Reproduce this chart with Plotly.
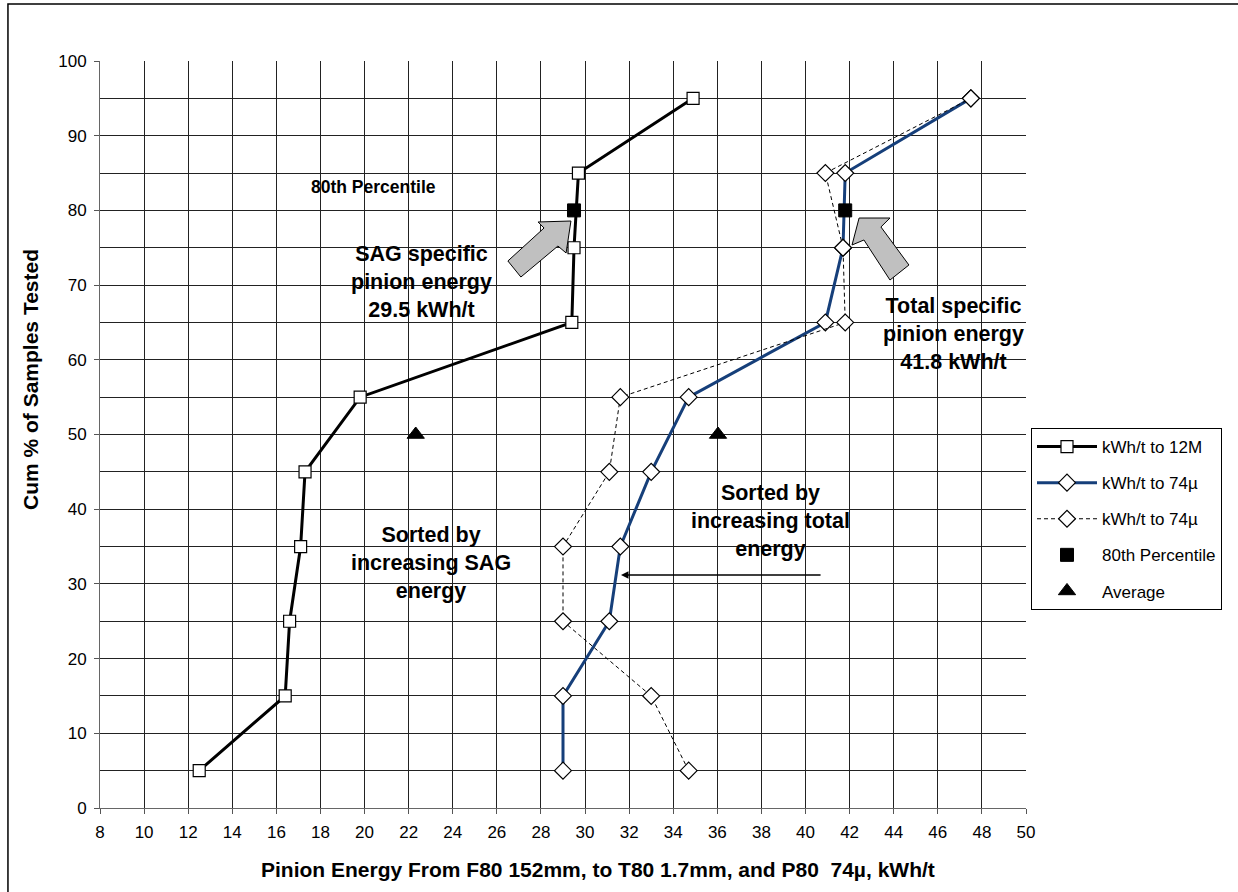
import numpy as np
import plotly.graph_objects as go

# Cumulative percentage of samples tested (y positions of each ranked sample)
cum_pct = [5, 15, 25, 35, 45, 55, 65, 75, 85, 95]

# SAG specific pinion energy, kWh/t to 12M, sorted ascending
kwh_sag = [12.5, 16.4, 16.6, 17.1, 17.3, 19.8, 29.4, 29.5, 29.7, 34.9]

# Total specific pinion energy, kWh/t to 74 micron, sorted ascending
kwh_total = [29.0, 29.0, 31.1, 31.6, 33.0, 34.7, 40.9, 41.7, 41.8, 47.5]

# Total specific pinion energy listed in the order of increasing SAG energy
kwh_total_by_sag = [34.7, 33.0, 29.0, 29.0, 31.1, 31.6, 41.8, 41.7, 40.9, 47.5]

# 80th percentile values
p80_pct = [80, 80]
p80_kwh = [29.5, 41.8]

# Averages plotted at the 50 % level
avg_pct = [50, 50]
avg_kwh = [float(np.mean(kwh_sag)), float(np.mean(kwh_total))]

x_ticks = list(range(8, 51, 2))
y_ticks = list(range(0, 101, 10))

FONT = "Liberation Sans, Arial, sans-serif"

fig = go.Figure()

fig.add_trace(go.Scatter(
    x=kwh_sag, y=cum_pct, mode="lines+markers", name="kWh/t to 12M",
    legendgroup="a",
    line=dict(color="black", width=3),
    marker=dict(symbol="square", size=12, color="white",
                line=dict(color="black", width=1.2)),
))
fig.add_trace(go.Scatter(
    x=kwh_total, y=cum_pct, mode="lines+markers", name="kWh/t to 74\u00b5",
    legendgroup="b",
    line=dict(color="#163f7a", width=3),
    marker=dict(symbol="diamond", size=13, color="white",
                line=dict(color="black", width=1.2)),
))
fig.add_trace(go.Scatter(
    x=kwh_total_by_sag, y=cum_pct, mode="lines+markers", name="kWh/t to 74\u00b5",
    legendgroup="c",
    line=dict(color="black", width=1, dash="4px,3px"),
    marker=dict(symbol="diamond", size=13, color="white",
                line=dict(color="black", width=1.2)),
))
fig.add_trace(go.Scatter(
    x=p80_kwh, y=p80_pct, mode="markers", name="80th Percentile",
    legendgroup="d",
    marker=dict(symbol="square", size=13, color="black",
                line=dict(color="black", width=1)),
))
fig.add_trace(go.Scatter(
    x=avg_kwh, y=avg_pct, mode="markers", name="Average",
    legendgroup="e",
    marker=dict(symbol="triangle-up", size=15, color="black",
                line=dict(color="black", width=1)),
))

# Grey block arrows pointing at the 80th percentile markers
arrow_sag = [(29.36, 78.58), (29.14, 74.30), (28.77, 75.23), (27.09, 71.08),
             (26.50, 73.23), (28.14, 77.64), (27.87, 78.45)]
arrow_total = [(42.11, 75.37), (42.43, 78.98), (43.83, 78.98), (43.42, 77.78),
               (44.69, 72.69), (43.83, 70.68), (42.65, 76.04)]


def poly_path(pts):
    return "M " + " L ".join(f"{x},{y}" for x, y in pts) + " Z"


for pts in (arrow_sag, arrow_total):
    fig.add_shape(type="path", path=poly_path(pts), xref="x", yref="y",
                  fillcolor="#c0c0c0", line=dict(color="black", width=1),
                  layer="above")

# Frame around the whole chart
fig.add_shape(type="rect", xref="paper", yref="paper",
              x0=-0.0994, x1=1.235, y0=-0.13, y1=1.0763,
              line=dict(color="black", width=1.5), fillcolor="rgba(0,0,0,0)")


def note(text, x, y, size=21.5):
    fig.add_annotation(text=f"<b>{text}</b>", x=x, y=y, xref="x", yref="y",
                       showarrow=False,
                       font=dict(family=FONT, size=size, color="black"),
                       xanchor="center", yanchor="middle")


note("80th Percentile", 20.4, 83.1, size=17.5)
note("SAG specific<br>pinion energy<br>29.5 kWh/t", 22.56, 70.4)
note("Total specific<br>pinion energy<br>41.8 kWh/t", 46.7, 63.4)
note("Sorted by<br>increasing SAG<br>energy", 23.0, 32.8)
note("Sorted by<br>increasing total<br>energy", 38.43, 38.4)

# Pointer arrow under the total energy note
fig.add_annotation(x=31.63, y=31.2, ax=40.75, ay=31.2, xref="x", yref="y",
                   axref="x", ayref="y", text="", showarrow=True,
                   arrowhead=2, arrowsize=1, arrowwidth=1.5,
                   arrowcolor="black")

# Axis titles
fig.add_annotation(
    text="<b>Pinion Energy From F80 152mm, to T80 1.7mm, and P80  74\u00b5, kWh/t</b>",
    xref="paper", yref="paper", x=(598 - 100) / 926, y=-62 / 747,
    showarrow=False, xanchor="center", yanchor="middle",
    font=dict(family=FONT, size=21, color="black"))
fig.add_annotation(
    text="<b>Cum % of Samples Tested</b>",
    xref="paper", yref="paper", x=(30 - 100) / 926, y=(808 - 380) / 747,
    showarrow=False, xanchor="center", yanchor="middle", textangle=-90,
    font=dict(family=FONT, size=21, color="black"))

fig.update_layout(
    width=1238, height=892,
    margin=dict(l=100, r=212, t=61, b=84),
    paper_bgcolor="white", plot_bgcolor="white",
    font=dict(family=FONT, size=17, color="black"),
    showlegend=True,
    legend=dict(
        x=(1031 - 100) / 926, y=(808 - 428) / 747,
        xanchor="left", yanchor="top",
        bordercolor="black", borderwidth=1, bgcolor="white",
        font=dict(family=FONT, size=17, color="black"),
        itemwidth=60, traceorder="grouped", tracegroupgap=11,
    ),
    xaxis=dict(
        range=[8, 50], tickvals=x_ticks, ticktext=[str(v) for v in x_ticks],
        showgrid=True, gridcolor="#222222", gridwidth=1,
        ticks="outside", ticklen=5, tickcolor="#555",
        showline=True, linecolor="#666", linewidth=1,
        zeroline=False, ticklabelstandoff=4,
    ),
    yaxis=dict(
        range=[0, 100], tickvals=y_ticks, ticktext=[str(v) for v in y_ticks],
        showgrid=True, gridcolor="#222222", gridwidth=1,
        minor=dict(dtick=5, tick0=0, showgrid=True, gridcolor="#222222",
                   gridwidth=1),
        ticks="outside", ticklen=5, tickcolor="#555",
        showline=True, linecolor="#666", linewidth=1,
        zeroline=False, ticklabelstandoff=4,
    ),
)

fig.write_html("out.html")
